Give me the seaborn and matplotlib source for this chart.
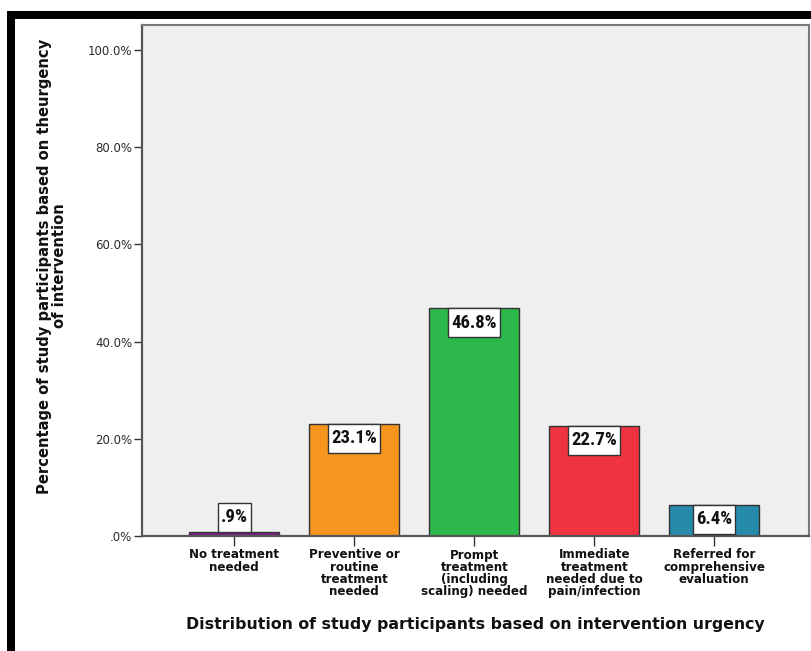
import matplotlib
matplotlib.use("Agg")
import matplotlib.pyplot as plt
from matplotlib.patches import Rectangle
from matplotlib.path import Path
from matplotlib import font_manager
import seaborn as sns
import pandas as pd

categories = [
    "No treatment\nneeded",
    "Preventive or\nroutine\ntreatment\nneeded",
    "Prompt\ntreatment\n(including\nscaling) needed",
    "Immediate\ntreatment\nneeded due to\npain/infection",
    "Referred for\ncomprehensive\nevaluation",
]
percentages = [0.9, 23.1, 46.8, 22.7, 6.4]
value_labels = [".9%", "23.1%", "46.8%", "22.7%", "6.4%"]
bar_colors = ["#7B1F86", "#F7961E", "#2DB84B", "#EF3340", "#268AAA"]
y_ticks = [0, 20, 40, 60, 80, 100]
y_tick_labels = [".0%", "20.0%", "40.0%", "60.0%", "80.0%", "100.0%"]

df = pd.DataFrame({"category": categories, "pct": percentages})

sns.set_style("white")
plt.rcParams["font.family"] = ["DejaVu Sans"]

# a moderately narrow bold face for the value boxes, with a size per face
bold_faces = {f.name for f in font_manager.fontManager.ttflist
              if f.weight in (700, "bold")}
narrow_choices = [("Liberation Sans Narrow", 13.5), ("Roboto Condensed", 13.5),
                  ("IBM Plex Sans Condensed", 13.2), ("Fira Sans Condensed", 13.2),
                  ("Encode Sans Condensed", 13.2), ("Asap Condensed", 13.5),
                  ("Archivo Narrow", 14.5), ("PT Sans Narrow", 14.5)]
narrow, narrow_fs = next(((n, s) for n, s in narrow_choices if n in bold_faces),
                         ("DejaVu Sans", 10.5))

W, H = 812, 651
fig = plt.figure(figsize=(W / 100, H / 100), dpi=100)
fig.patch.set_facecolor("white")

ax = fig.add_axes([142 / W, 1 - 536 / H, 667 / W, 511 / H])
ax.set_facecolor("#EFEFEF")

sns.barplot(data=df, x="category", y="pct", hue="category", palette=bar_colors,
            legend=False, width=0.75, edgecolor="#333333", linewidth=1.0,
            saturation=1, ax=ax)

ax.set_xlim(-0.77, 4.79)
ax.set_ylim(0, 105.1)
ax.set_yticks(y_ticks)
ax.set_yticklabels(y_tick_labels)
ax.tick_params(axis="y", direction="out", length=6, width=1, color="#333333",
               labelsize=8.5, labelcolor="#2A2A2A", pad=1, left=True)
ax.tick_params(axis="x", direction="out", length=7, width=1, color="#333333",
               labelsize=8.6, pad=2, bottom=True)
for lbl in ax.get_xticklabels():
    lbl.set_fontweight("bold")
    lbl.set_linespacing(0.92)
    lbl.set_color("#111111")

for side in ["top", "right"]:
    ax.spines[side].set_color("#7A7A7A")
    ax.spines[side].set_linewidth(1.5)
for side in ["left", "bottom"]:
    ax.spines[side].set_color("#555555")
    ax.spines[side].set_linewidth(1.6)

ax.set_xlabel("")
ax.set_ylabel("")

# label box: tight at the sides, roomier above and below the text
PAD_X, PAD_Y = 3.0, 5.5


def label_box(x0, y0, width, height, mutation_size):
    x0 -= PAD_X
    y0 -= PAD_Y
    x1 = x0 + width + 2 * PAD_X
    y1 = y0 + height + 2 * PAD_Y
    return Path([(x0, y0), (x1, y0), (x1, y1), (x0, y1), (x0, y0)], closed=True)


# value boxes: inside the bar top when they fit, otherwise just above it
box_px = 26
px_per_unit = 511 / 105.1
off_pt = PAD_Y * 72 / fig.dpi
for i, (v, lab) in enumerate(zip(percentages, value_labels)):
    inside = v * px_per_unit >= box_px
    off = -off_pt if inside else off_pt
    ax.annotate(lab, xy=(i, v), xytext=(0, off), textcoords="offset points",
                ha="center", va="top" if inside else "bottom",
                fontsize=narrow_fs, fontweight="bold", family=narrow,
                color="#111111",
                bbox=dict(boxstyle=label_box, facecolor="white",
                          edgecolor="#333333", linewidth=1.0))

fig.text(475 / W, 1 - 624 / H,
         "Distribution of study participants based on intervention urgency",
         ha="center", va="center", fontsize=11.3, fontweight="bold",
         color="#111111")
fig.text(52 / W, 1 - 266 / H,
         "Percentage of study participants based on theurgency\nof intervention",
         ha="center", va="center", rotation=90, fontsize=10.6,
         fontweight="bold", linespacing=0.95, color="#111111")

# outer black frame (top and left bands)
fig.add_artist(Rectangle((7 / W, 1 - 19 / H), 1 - 7 / W, 8 / H,
                         transform=fig.transFigure, facecolor="black",
                         edgecolor="none"))
fig.add_artist(Rectangle((7 / W, 0), 8 / W, 1 - 11 / H,
                         transform=fig.transFigure, facecolor="black",
                         edgecolor="none"))

fig.savefig("out.png", dpi=100, facecolor="white")
